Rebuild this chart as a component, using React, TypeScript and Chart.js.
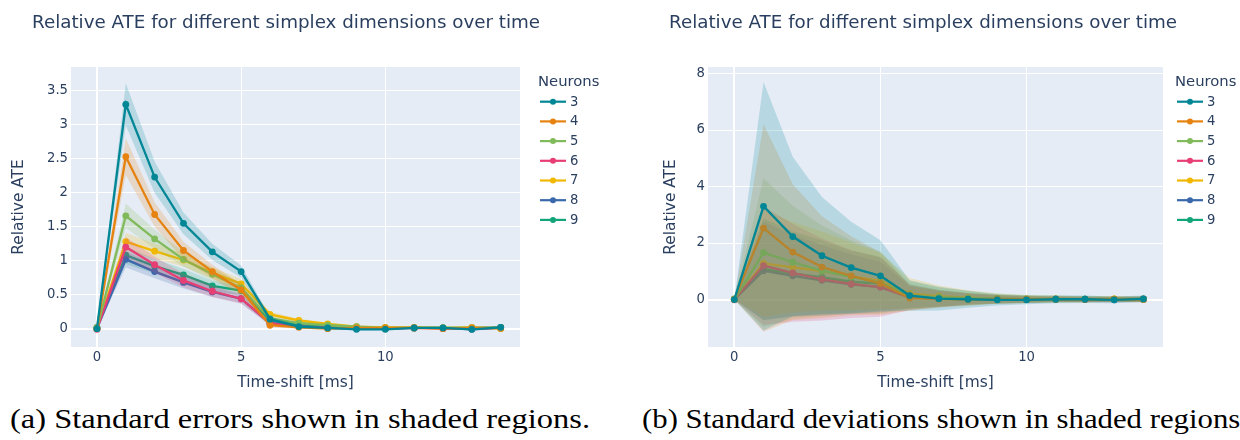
import React, { useEffect, useRef } from "react";
import { Chart, registerables } from "chart.js";

Chart.register(...registerables);

// ---- data ----
const timeShift = [0, 1, 2, 3, 4, 5, 6, 7, 8, 9, 10, 11, 12, 13, 14];
const neuronCounts = ["3", "4", "5", "6", "7", "8", "9"];

const meanN3 = [0.0, 3.3, 2.23, 1.55, 1.13, 0.84, 0.14, 0.03, 0.01, -0.01, -0.01, 0.01, 0.01, -0.01, 0.02];
const meanN4 = [0.0, 2.53, 1.68, 1.15, 0.84, 0.57, 0.05, 0.02, 0.0, 0.01, 0.01, 0.01, 0.0, 0.01, 0.01];
const meanN5 = [0.0, 1.66, 1.32, 1.02, 0.8, 0.6, 0.15, 0.08, 0.05, 0.03, 0.01, 0.01, 0.01, 0.01, 0.01];
const meanN6 = [-0.01, 1.2, 0.94, 0.71, 0.55, 0.44, 0.08, 0.03, 0.02, 0.01, 0.0, 0.01, 0.0, 0.0, 0.01];
const meanN7 = [0.01, 1.28, 1.14, 1.01, 0.82, 0.66, 0.21, 0.12, 0.07, 0.03, 0.02, 0.02, 0.01, 0.02, 0.0];
const meanN8 = [0.0, 1.02, 0.84, 0.68, 0.54, 0.44, 0.08, 0.03, 0.01, 0.0, 0.0, 0.01, 0.01, -0.01, 0.01];
const meanN9 = [0.02, 1.08, 0.92, 0.79, 0.63, 0.56, 0.12, 0.05, 0.03, 0.02, 0.01, 0.01, 0.01, 0.01, 0.02];

// standard errors
const seN3 = [0, 0.31, 0.23, 0.16, 0.12, 0.09, 0.04, 0.03, 0.02, 0.015, 0.012, 0.01, 0.01, 0.01, 0.01];
const seN4 = [0, 0.27, 0.18, 0.13, 0.1, 0.08, 0.03, 0.02, 0.016, 0.011, 0.009, 0.008, 0.007, 0.007, 0.007];
const seN5 = [0, 0.18, 0.14, 0.11, 0.09, 0.075, 0.035, 0.025, 0.018, 0.013, 0.01, 0.009, 0.008, 0.007, 0.007];
const seN6 = [0, 0.15, 0.12, 0.1, 0.085, 0.075, 0.03, 0.02, 0.014, 0.011, 0.009, 0.007, 0.007, 0.007, 0.007];
const seN7 = [0, 0.13, 0.11, 0.1, 0.085, 0.07, 0.04, 0.027, 0.018, 0.013, 0.01, 0.009, 0.008, 0.007, 0.007];
const seN8 = [0, 0.12, 0.1, 0.09, 0.075, 0.065, 0.028, 0.02, 0.014, 0.01, 0.008, 0.007, 0.007, 0.006, 0.006];
const seN9 = [0, 0.13, 0.11, 0.09, 0.08, 0.068, 0.03, 0.021, 0.014, 0.011, 0.009, 0.007, 0.007, 0.007, 0.007];

// standard deviations
const sdN3 = [0, 4.4, 2.82, 2.08, 1.62, 1.26, 0.54, 0.42, 0.3, 0.2, 0.16, 0.14, 0.13, 0.12, 0.12];
const sdN4 = [0, 3.67, 2.4, 1.8, 1.4, 1.1, 0.45, 0.3, 0.22, 0.15, 0.12, 0.11, 0.1, 0.1, 0.1];
const sdN5 = [0, 2.63, 2.0, 1.6, 1.3, 1.1, 0.5, 0.35, 0.25, 0.18, 0.14, 0.12, 0.11, 0.1, 0.1];
const sdN6 = [0, 2.1, 1.73, 1.45, 1.2, 1.05, 0.45, 0.3, 0.2, 0.15, 0.12, 0.1, 0.1, 0.1, 0.1];
const sdN7 = [0, 1.9, 1.6, 1.4, 1.2, 1.0, 0.55, 0.38, 0.26, 0.18, 0.14, 0.12, 0.11, 0.1, 0.1];
const sdN8 = [0, 1.75, 1.45, 1.25, 1.05, 0.9, 0.4, 0.28, 0.2, 0.14, 0.11, 0.1, 0.1, 0.09, 0.09];
const sdN9 = [0, 1.8, 1.5, 1.3, 1.1, 0.95, 0.42, 0.3, 0.2, 0.15, 0.12, 0.1, 0.1, 0.1, 0.1];

const meanSeries = [meanN3, meanN4, meanN5, meanN6, meanN7, meanN8, meanN9];
const seSeries = [seN3, seN4, seN5, seN6, seN7, seN8, seN9];
const sdSeries = [sdN3, sdN4, sdN5, sdN6, sdN7, sdN8, sdN9];

const traceRgb = ["0,134,149", "230,131,16", "128,186,90", "231,63,116", "242,183,1", "57,105,172", "17,165,121"];

const panelTitle = "Relative ATE for different simplex dimensions over time";
const xAxisTitle = "Time-shift [ms]";
const yAxisTitle = "Relative ATE";
const legendTitle = "Neurons";
const captionA = "(a) Standard errors shown in shaded regions.";
const captionB = "(b) Standard deviations shown in shaded regions.";

const TEXT = "#2a3f5f";
const FONT = '"DejaVu Sans", sans-serif';

type PanelLayout = {
  spread: number[][];
  yMin: number;
  yMax: number;
  yStep: number;
  padLeft: number;
  yAxisWidth: number;
  padRight: number;
  titleX: number;
  legendX: number;
};

const plotBackground = {
  id: "plotBackground",
  beforeDraw(chart: any) {
    const { ctx, chartArea } = chart;
    ctx.save();
    ctx.fillStyle = "#E5ECF6";
    ctx.fillRect(chartArea.left, chartArea.top, chartArea.right - chartArea.left, chartArea.bottom - chartArea.top);
    ctx.restore();
  },
};

const decorations = {
  id: "decorations",
  afterDraw(chart: any, _args: any, opts: any) {
    const { ctx } = chart;
    ctx.save();
    // panel title
    ctx.fillStyle = TEXT;
    ctx.textBaseline = "alphabetic";
    ctx.textAlign = "left";
    ctx.font = `18.3px ${FONT}`;
    ctx.fillText(panelTitle, opts.titleX, 27.5);

    // legend
    const lx = opts.legendX;
    ctx.font = `14.8px ${FONT}`;
    ctx.textBaseline = "middle";
    ctx.fillText(legendTitle, lx, 82.5);
    ctx.font = `13.2px ${FONT}`;
    neuronCounts.forEach((label, k) => {
      const y = 101.7 + k * 19.7;
      const color = `rgb(${traceRgb[k]})`;
      ctx.strokeStyle = color;
      ctx.lineWidth = 2.2;
      ctx.beginPath();
      ctx.moveTo(lx + 2, y);
      ctx.lineTo(lx + 28, y);
      ctx.stroke();
      ctx.fillStyle = color;
      ctx.beginPath();
      ctx.arc(lx + 15, y, 3, 0, Math.PI * 2);
      ctx.fill();
      ctx.fillStyle = TEXT;
      ctx.fillText(label, lx + 32, y + 0.5);
    });
    ctx.restore();
  },
};

const tickLabel = (v: any) => `${+Number(v).toFixed(3)}`;

function AtePanel(props: PanelLayout) {
  const ref = useRef<HTMLCanvasElement>(null);

  useEffect(() => {
    if (!ref.current) return;
    const datasets: any[] = [];
    meanSeries.forEach((mean, k) => {
      const err = props.spread[k];
      const color = `rgb(${traceRgb[k]})`;
      datasets.push({
        label: neuronCounts[k],
        data: timeShift.map((t, i) => ({ x: t, y: mean[i] })),
        borderColor: color,
        backgroundColor: color,
        borderWidth: 2.3,
        pointRadius: 3.4,
        pointBorderWidth: 0,
        pointBackgroundColor: color,
        fill: false,
        tension: 0,
      });
      datasets.push({
        label: neuronCounts[k] + " lower",
        data: timeShift.map((t, i) => ({ x: t, y: mean[i] - err[i] })),
        borderColor: "rgba(0,0,0,0)",
        borderWidth: 0,
        pointRadius: 0,
        backgroundColor: `rgba(${traceRgb[k]},0.2)`,
        fill: "+1",
        tension: 0,
      });
      datasets.push({
        label: neuronCounts[k] + " upper",
        data: timeShift.map((t, i) => ({ x: t, y: mean[i] + err[i] })),
        borderColor: "rgba(0,0,0,0)",
        borderWidth: 0,
        pointRadius: 0,
        fill: false,
        tension: 0,
      });
    });

    const gridWidth = (c: any) => (c.tick && c.tick.value === 0 ? 2 : 1);

    const chart = new Chart(ref.current, {
      type: "line",
      data: { datasets },
      options: {
        responsive: false,
        animation: false,
        devicePixelRatio: 1,
        layout: { padding: { left: props.padLeft, top: 67, right: props.padRight, bottom: 0 } },
        plugins: {
          legend: { display: false },
          tooltip: { enabled: false },
          decorations: { titleX: props.titleX, legendX: props.legendX },
        } as any,
        scales: {
          x: {
            type: "linear",
            min: -0.9,
            max: 14.67,
            border: { display: false },
            grid: { color: "#ffffff", lineWidth: gridWidth, drawTicks: false },
            ticks: { stepSize: 5, includeBounds: false, color: TEXT, font: { family: FONT, size: 13.2 }, padding: 3, maxRotation: 0, callback: tickLabel },
            title: { display: true, text: xAxisTitle, color: TEXT, font: { family: FONT, size: 15.4 }, padding: { top: 0, bottom: 2.8 } },
            afterFit: (s: any) => {
              s.height = 48;
            },
          },
          y: {
            type: "linear",
            min: props.yMin,
            max: props.yMax,
            border: { display: false },
            grid: { color: "#ffffff", lineWidth: gridWidth, drawTicks: false },
            ticks: { stepSize: props.yStep, includeBounds: false, color: TEXT, font: { family: FONT, size: 13.2 }, padding: 3, callback: tickLabel },
            title: { display: true, text: yAxisTitle, color: TEXT, font: { family: FONT, size: 15.4 }, padding: { top: 9.5, bottom: 0 } },
            afterFit: (s: any) => {
              s.width = props.yAxisWidth;
            },
          },
        },
      },
      plugins: [plotBackground, decorations],
    });
    return () => chart.destroy();
  }, []);

  return <canvas ref={ref} width={620} height={395} style={{ display: "block", width: 620, height: 395 }} />;
}

export default function App() {
  return (
    <div style={{ position: "fixed", left: 0, top: 0, width: 1240, height: 440, background: "#ffffff", overflow: "hidden" }}>
      <div style={{ position: "absolute", left: 0, top: 0 }}>
        <AtePanel spread={seSeries} yMin={-0.27} yMax={3.85} yStep={0.5} padLeft={0} yAxisWidth={71} padRight={100} titleX={32} legendX={538} />
      </div>
      <div style={{ position: "absolute", left: 620, top: 0 }}>
        <AtePanel spread={sdSeries} yMin={-1.68} yMax={8.23} yStep={2} padLeft={32} yAxisWidth={56} padRight={77} titleX={49} legendX={555} />
      </div>
      <svg width={1240} height={45} style={{ position: "absolute", left: 0, top: 395 }}>
        <text x={10} y={33} fontFamily="Liberation Serif" fontSize={28} fill="#000" textLength={580} lengthAdjust="spacingAndGlyphs">
          {captionA}
        </text>
        <text x={642} y={33} fontFamily="Liberation Serif" fontSize={28} fill="#000" textLength={606} lengthAdjust="spacingAndGlyphs">
          {captionB}
        </text>
      </svg>
    </div>
  );
}
